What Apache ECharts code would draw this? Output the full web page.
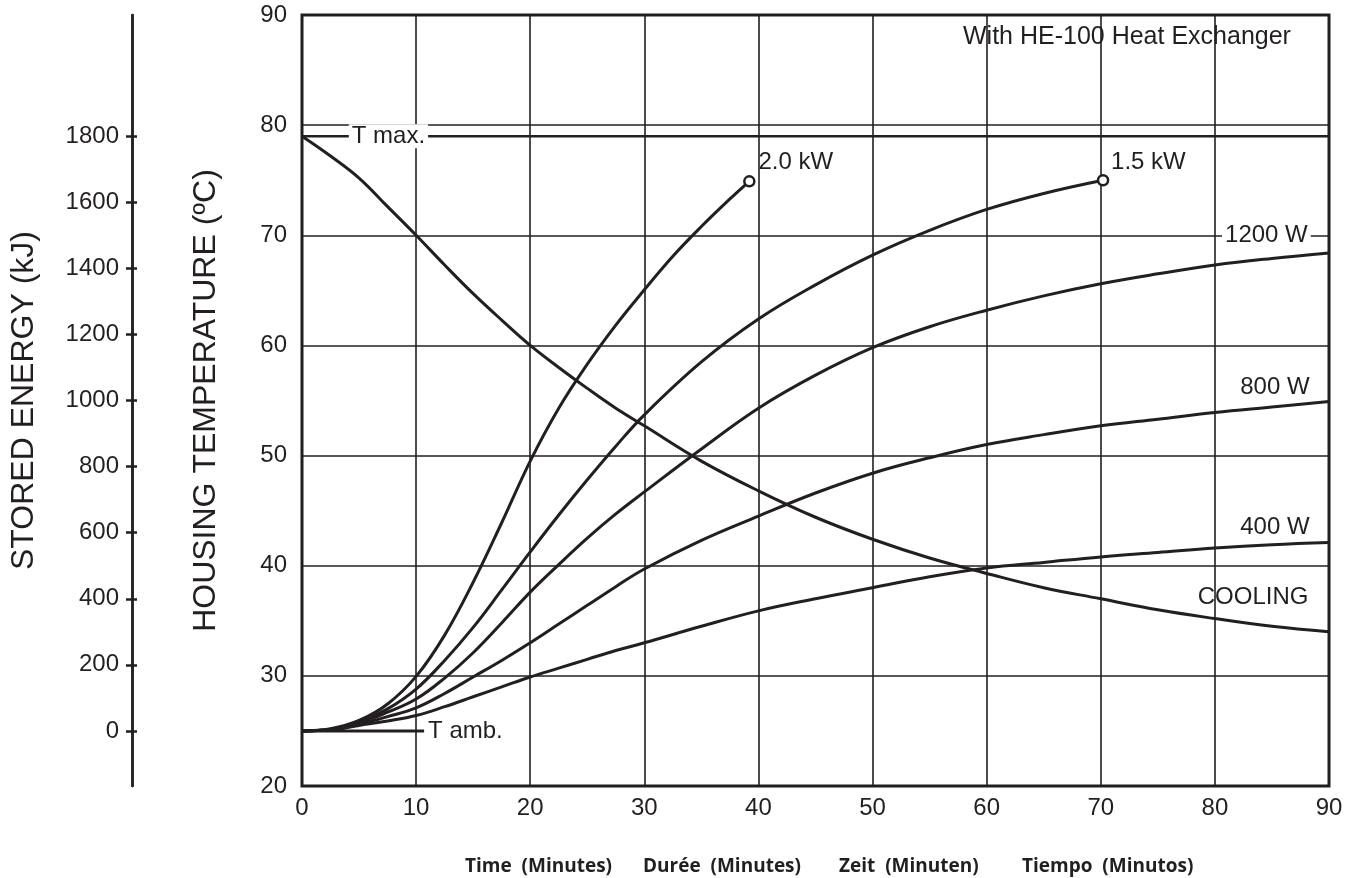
<!DOCTYPE html>
<html>
<head>
<meta charset="utf-8">
<title>Housing temperature - HE-100</title>
<script src="https://cdn.jsdelivr.net/npm/echarts@6/dist/echarts.min.js"></script>
<style>
  html, body { margin: 0; padding: 0; background: #fff; }
  #chart { width: 1355px; height: 878px; }
</style>
</head>
<body>
<div id="chart"></div>
<script>
// time in minutes, housing temperature in degC
const t20 = [0, 2.5, 5, 7.5, 10, 12.5, 15, 17.5, 20, 22.5, 25, 27.5, 30, 32.5, 35, 37.5, 39.2];
const temp2000 = [25, 25.2, 25.95, 27.45, 29.95, 33.7, 38.5, 43.9, 49.5, 54.3, 58.3, 61.85, 65.05, 68.1, 70.8, 73.3, 74.9];

const t15 = [0, 2.5, 5, 7.5, 10, 12.5, 15, 17.5, 20, 22.5, 25, 27.5, 30, 35, 40, 45, 50, 55, 60, 65, 70.2];
const temp1500 = [25, 25.15, 25.8, 27.0, 28.8, 31.4, 34.4, 37.8, 41.25, 44.6, 47.8, 50.85, 53.7, 58.5, 62.4, 65.5, 68.2, 70.45, 72.35, 73.8, 75.0];

const tFull = [0, 2.5, 5, 7.5, 10, 12.5, 15, 17.5, 20, 22.5, 25, 27.5, 30, 35, 40, 45, 50, 55, 60, 65, 70, 75, 80, 85, 90];
const temp1200 = [25, 25.1, 25.7, 26.7, 27.9, 29.8, 32.1, 34.8, 37.6, 40.1, 42.5, 44.7, 46.7, 50.6, 54.3, 57.3, 59.8, 61.7, 63.2, 64.5, 65.6, 66.5, 67.3, 67.9, 68.4];
const temp800 = [25, 25.1, 25.6, 26.3, 27.1, 28.4, 29.9, 31.4, 33.0, 34.7, 36.4, 38.1, 39.7, 42.3, 44.5, 46.6, 48.4, 49.8, 51.0, 51.9, 52.7, 53.3, 53.9, 54.4, 54.9];
const temp400 = [25, 25.1, 25.5, 25.9, 26.4, 27.2, 28.1, 29.0, 29.9, 30.7, 31.5, 32.3, 33.0, 34.5, 35.9, 37.0, 38.0, 39.0, 39.8, 40.3, 40.8, 41.2, 41.6, 41.9, 42.1];
const tempCooling = [79, 77.2, 75.2, 72.6, 70.0, 67.3, 64.7, 62.3, 60.0, 58.0, 56.1, 54.3, 52.7, 49.5, 46.8, 44.4, 42.4, 40.7, 39.3, 38.0, 37.0, 36.0, 35.2, 34.5, 34.0];

const tMax = 79;
const tAmb = 25;
const tAmbEnd = 10.7;

const energyTicks = [0, 200, 400, 600, 800, 1000, 1200, 1400, 1600, 1800];
const bottomTitles = ['Time  (Minutes)', 'Durée  (Minutes)', 'Zeit  (Minuten)', 'Tiempo  (Minutos)'];

// stored energy is 0 at T amb and 1800 kJ at T max
const kjPerDeg = 1800 / (tMax - tAmb);
const tempMin = 20, tempMax = 90;

const ink = '#231f20';
const font = '"Liberation Sans", Arial, sans-serif';

function pairs(xs, ys) {
    return xs.map((x, i) => [x, ys[i]]);
}

let myChart = echarts.init(document.getElementById('chart'));

function curve(name, xs, ys) {
    return {
        name: name,
        type: 'line',
        data: pairs(xs, ys),
        smooth: 0.4,
        symbol: 'none',
        silent: true,
        lineStyle: { color: ink, width: 3 },
        z: 5
    };
}

let energyAxis = {
    type: 'value',
    position: 'left',
    offset: 170,
    min: (tempMin - tAmb) * kjPerDeg,
    max: (tempMax - tAmb) * kjPerDeg,
    splitLine: { show: false },
    axisLine: { show: true, lineStyle: { color: ink, width: 2.5 } },
    axisTick: { show: true, customValues: energyTicks, length: 6, lineStyle: { color: ink, width: 2.5 } },
    axisLabel: {
        show: true, customValues: energyTicks, margin: 13,
        fontSize: 24, fontFamily: font, color: ink,
        formatter: v => String(Math.round(v))
    },
    name: 'STORED ENERGY (kJ)',
    nameLocation: 'middle',
    nameGap: 92,
    nameTextStyle: { fontSize: 32, fontFamily: font, color: ink }
};

let option = {
    animation: false,
    backgroundColor: '#fff',
    title: {
        text: 'With HE-100 Heat Exchanger',
        left: 963,
        top: 25,
        padding: 0,
        textStyle: { fontSize: 25, fontWeight: 'normal', fontFamily: font, color: ink }
    },
    grid: {
        left: 300, right: 26, top: 15, bottom: 92,
        show: true, borderColor: ink, borderWidth: 3, backgroundColor: 'transparent'
    },
    xAxis: {
        type: 'value',
        min: 0, max: 90, interval: 10,
        axisLine: { show: false },
        axisTick: { show: false },
        splitLine: { show: true, lineStyle: { color: ink, width: 1.6 } },
        axisLabel: { margin: 10, fontSize: 24, fontFamily: font, color: ink }
    },
    yAxis: [
        {
            type: 'value',
            min: tempMin, max: tempMax, interval: 10,
            axisLine: { show: false },
            axisTick: { show: false },
            splitLine: { show: true, lineStyle: { color: ink, width: 1.6 } },
            axisLabel: { margin: 15, fontSize: 24, fontFamily: font, color: ink },
            name: 'HOUSING TEMPERATURE (ºC)',
            nameLocation: 'middle',
            nameGap: 80,
            nameTextStyle: { fontSize: 32, fontFamily: font, color: ink }
        },
        energyAxis,
        // same scale again, only to draw the inner half of the ticks
        Object.assign({}, energyAxis, {
            name: '',
            axisLabel: { show: false },
            axisTick: { show: true, inside: true, customValues: energyTicks, length: 5, lineStyle: { color: ink, width: 2.5 } }
        })
    ],
    series: [
        curve('2.0 kW', t20, temp2000),
        curve('1.5 kW', t15, temp1500),
        curve('1200 W', tFull, temp1200),
        curve('800 W', tFull, temp800),
        curve('400 W', tFull, temp400),
        curve('COOLING', tFull, tempCooling),
        {
            name: 'T max.',
            type: 'line',
            data: [[0, tMax], [90, tMax]],
            symbol: 'none', silent: true,
            lineStyle: { color: ink, width: 2.5 },
            z: 4
        },
        {
            name: 'T amb.',
            type: 'line',
            data: [[0, tAmb], [tAmbEnd, tAmb]],
            symbol: 'none', silent: true,
            lineStyle: { color: ink, width: 3 },
            z: 4
        },
        {
            name: 'end points',
            type: 'scatter',
            data: [[t20[t20.length - 1], temp2000[temp2000.length - 1]], [t15[t15.length - 1], temp1500[temp1500.length - 1]]],
            symbol: 'circle',
            symbolSize: 10,
            silent: true,
            itemStyle: { color: '#fff', borderColor: ink, borderWidth: 2.5, opacity: 1 },
            z: 6
        },
        {
            name: 'labels',
            type: 'scatter',
            symbolSize: 0,
            silent: true,
            z: 7,
            itemStyle: { opacity: 1 },
            label: { show: true, fontSize: 24, fontFamily: font, color: ink, formatter: p => p.data.text },
            data: [
                { value: [4.1, tMax], text: 'T max.', label: { position: 'right', distance: 0, backgroundColor: '#fff', padding: [0, 3] } },
                { value: [tAmbEnd, tAmb], text: 'T amb.', label: { position: 'right', distance: 4 } },
                { value: [40.0, 76.65], text: '2.0 kW', label: { position: 'right', distance: 0 } },
                { value: [70.9, 76.65], text: '1.5 kW', label: { position: 'right', distance: 0 } },
                { value: [88.4, 70], text: '1200 W', label: { position: 'left', distance: 0, backgroundColor: '#fff', padding: [0, 3] } },
                { value: [88.3, 56.2], text: '800 W', label: { position: 'left', distance: 0 } },
                { value: [88.3, 43.5], text: '400 W', label: { position: 'left', distance: 0 } },
                { value: [88.2, 37.1], text: 'COOLING', label: { position: 'left', distance: 0 } }
            ]
        }
    ],
    graphic: bottomTitles.map((txt, i) => ({
        type: 'text',
        left: [465, 643, 839, 1022][i],
        top: 857,
        style: {
            text: txt,
            fontSize: 19,
            fontWeight: 'bold',
            fontFamily: '"Open Sans", "DejaVu Sans", sans-serif',
            fill: ink
        }
    }))
};

myChart.setOption(option);
</script>
</body>
</html>
